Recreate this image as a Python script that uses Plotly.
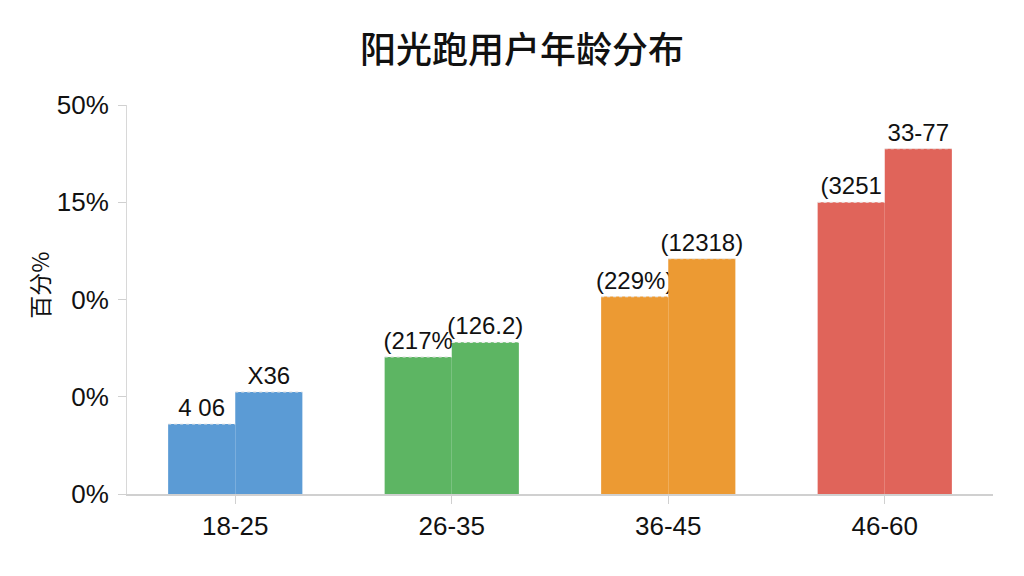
import plotly.graph_objects as go

categories = ["18-25", "26-35", "36-45", "46-60"]
left_values = [7.2, 14.1, 20.3, 30.0]
right_values = [10.5, 15.6, 24.2, 35.5]
left_labels = ["4 06", "(217%", "(229%)", "(3251"]
right_labels = ["X36", "(126.2)", "(12318)", "33-77"]
colors = ["#5b9bd5", "#5db563", "#ec9a33", "#e0645a"]
y_tickvals = [0, 10, 20, 30, 40]
y_ticktext = ["0%", "0%", "0%", "15%", "50%"]

xs = list(range(len(categories)))
W = 0.31
FONT = "Liberation Sans, Arial, Noto Sans CJK SC, sans-serif"

fig = go.Figure()
fig.add_trace(go.Bar(
    x=xs, y=left_values, offset=-W, width=W,
    marker=dict(color=colors, line=dict(width=0)),
    text=left_labels, textposition="outside", constraintext="none",
    cliponaxis=False, textfont=dict(size=24, color="#111111", family=FONT),
    showlegend=False, hoverinfo="skip",
))
fig.add_trace(go.Bar(
    x=xs, y=right_values, offset=0, width=W,
    marker=dict(color=colors, line=dict(width=0)),
    text=right_labels, textposition="outside", constraintext="none",
    cliponaxis=False, textfont=dict(size=24, color="#111111", family=FONT),
    showlegend=False, hoverinfo="skip",
))

# dotted top edges derived from the data
lx, ly = [], []
for i, (a, b) in enumerate(zip(left_values, right_values)):
    lx += [i - W, i, None, i, i + W, None]
    ly += [a, a, None, b, b, None]
fig.add_trace(go.Scatter(x=lx, y=ly, mode="lines",
                         line=dict(color="#e8e8e8", width=1.2, dash="dot"),
                         showlegend=False, hoverinfo="skip"))

fig.update_layout(
    width=1024, height=576,
    paper_bgcolor="white", plot_bgcolor="white",
    margin=dict(l=119, r=39, t=97, b=90),
    barmode="overlay",
    title=dict(text="阳光跑用户年龄分布", x=0.502, xref="container", xanchor="center",
               y=0.927, yref="container", yanchor="middle",
               font=dict(size=36, color="#111111", family="Noto Sans CJK SC", weight=500)),
    font=dict(family=FONT, color="#111111"),
    annotations=[dict(text="百分%", textangle=-90, xref="paper", yref="paper",
                      x=-0.101, y=0.537, xanchor="center", yanchor="middle",
                      showarrow=False,
                      font=dict(size=23, color="#111111", family="Noto Sans CJK SC"))],
)
fig.update_xaxes(
    range=[-0.5, 3.5], tickmode="array", tickvals=xs, ticktext=categories,
    showline=True, linecolor="#d0d0d0", linewidth=1.5,
    ticks="outside", ticklen=8, tickcolor="#d0d0d0",
    showgrid=False, zeroline=False,
    tickfont=dict(size=26, color="#111111", family=FONT),
)
fig.update_yaxes(
    range=[0, 40], tickmode="array", tickvals=y_tickvals, ticktext=y_ticktext,
    showline=True, linecolor="#d8d8d8", linewidth=1,
    ticks="outside", ticklen=8, tickcolor="#d0d0d0",
    showgrid=False, zeroline=False, ticklabelstandoff=4,
    tickfont=dict(size=26, color="#111111", family=FONT),
)

fig.write_html("out.html")
